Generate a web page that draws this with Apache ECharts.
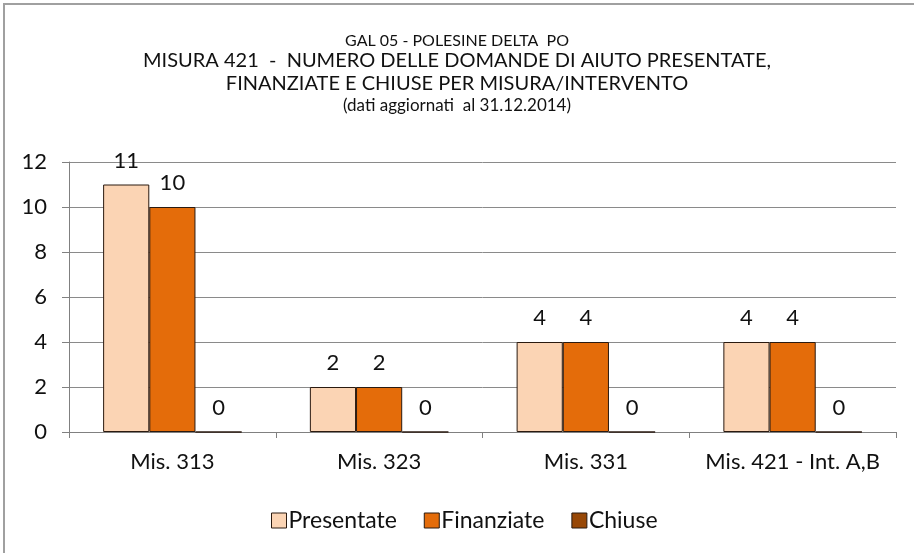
<!DOCTYPE html>
<html>
<head>
<meta charset="utf-8">
<script src="https://cdn.jsdelivr.net/npm/echarts@6/dist/echarts.min.js"></script>
<style>
  html, body { margin: 0; padding: 0; background: #fff; }
  #frame {
    position: absolute; left: 3px; top: 3px; width: 920px; height: 560px;
    border-top: 2px solid #a0a0a0; border-left: 2px solid #a0a0a0;
  }
  #chart { position: absolute; left: 0; top: 0; width: 914px; height: 553px; }
</style>
</head>
<body>
<div id="frame"></div>
<div id="chart"></div>
<script>
  // dati
  var categories = ["Mis. 313", "Mis. 323", "Mis. 331", "Mis. 421 - Int. A,B"];
  var presentate = [11, 2, 4, 4];
  var finanziate = [10, 2, 4, 4];
  var chiuse = [0, 0, 0, 0];
  var titleLines = [
    "GAL 05 - POLESINE DELTA  PO",
    "MISURA 421  -  NUMERO DELLE DOMANDE DI AIUTO PRESENTATE,",
    "FINANZIATE E CHIUSE PER MISURA/INTERVENTO",
    "(dati aggiornati  al 31.12.2014)"
  ];

  var font = "Lato, 'Open Sans', sans-serif";
  var txt = "#111";

  var myChart = echarts.init(document.getElementById("chart"), null, { renderer: "canvas" });

  function mkSeries(name, data, color) {
    return {
      name: name,
      type: "bar",
      data: data,
      barGap: "0%",
      barCategoryGap: "33%",
      itemStyle: { color: color, borderColor: "#2a1a10", borderWidth: 1 },
      label: {
        show: true,
        position: "top",
        distance: 13,
        color: txt,
        fontFamily: font,
        fontSize: 22
      }
    };
  }

  function mkTitle(text, top, size) {
    return {
      text: text, left: "center", top: top,
      textStyle: { fontFamily: font, fontSize: size, fontWeight: "normal", color: txt }
    };
  }

  var option = {
    animation: false,
    title: [
      mkTitle(titleLines[0], 28, 16),
      mkTitle(titleLines[1], 46, 20),
      mkTitle(titleLines[2], 69, 20),
      mkTitle(titleLines[3], 92, 17)
    ],
    legend: {
      left: 266,
      top: 504,
      itemWidth: 15,
      itemHeight: 15,
      itemGap: 27,
      icon: "rect",
      itemStyle: { borderColor: "#2a1a10", borderWidth: 1 },
      textStyle: { fontFamily: font, fontSize: 23, color: txt, padding: [0, 0, 0, -3] },
      data: ["Presentate", "Finanziate", "Chiuse"]
    },
    grid: { left: 69, right: 18, top: 162, bottom: 121 },
    xAxis: {
      type: "category",
      data: categories,
      axisLine: { lineStyle: { color: "#808080" } },
      axisTick: { show: true, length: 6, lineStyle: { color: "#808080" } },
      axisLabel: { interval: 0, margin: 19, fontFamily: font, fontSize: 22, color: txt }
    },
    yAxis: {
      type: "value",
      min: 0,
      max: 12,
      interval: 2,
      axisLine: { show: true, lineStyle: { color: "#808080" } },
      axisTick: { show: true, length: 7, lineStyle: { color: "#808080" } },
      axisLabel: { margin: 22, fontFamily: font, fontSize: 22, color: txt },
      splitLine: { lineStyle: { color: "#8a8a8a" } }
    },
    series: [
      mkSeries("Presentate", presentate, "#fbd4b4"),
      mkSeries("Finanziate", finanziate, "#e46c0a"),
      mkSeries("Chiuse", chiuse, "#984807")
    ]
  };

  myChart.setOption(option);
</script>
</body>
</html>
